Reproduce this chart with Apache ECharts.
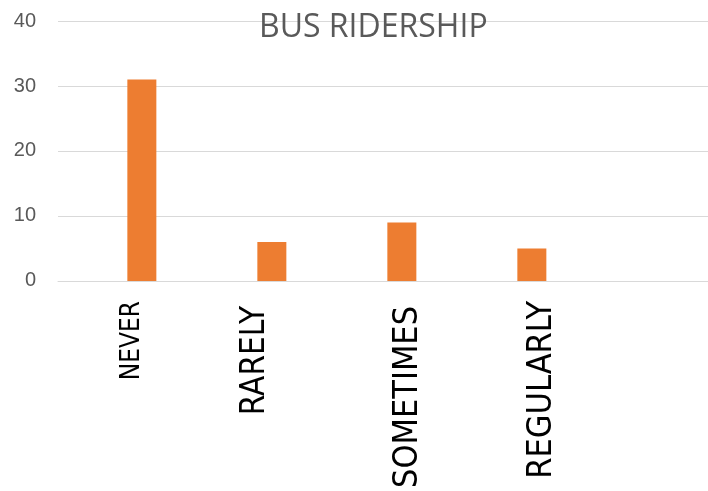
<!DOCTYPE html>
<html>
<head>
<meta charset="utf-8">
<script src="https://cdn.jsdelivr.net/npm/echarts@6/dist/echarts.min.js"></script>
<style>
  html, body { margin: 0; padding: 0; background: #fff; overflow: hidden; }
  #chart { width: 708px; height: 491px; }
</style>
</head>
<body>
<div id="chart"></div>
<script>
  // 数据
  const categories = ['NEVER', 'RARELY', 'SOMETIMES', 'REGULARLY', ''];
  const series1 = [null, null, null, null, null];   // empty first series (Excel blue)
  const series2 = [31, 6, 9, 5, null];
  const yMin = 0, yMax = 40, yStep = 10;

  // per-label rich style key
  const labelKeys = { NEVER: 'a', RARELY: 'b', SOMETIMES: 'c', REGULARLY: 'd' };
  const labelFont = '"Liberation Sans Narrow", "DejaVu Sans Condensed", "Liberation Sans", sans-serif';

  const chart = echarts.init(document.getElementById('chart'));
  const option = {
    animation: false,
    title: {
      text: 'BUS RIDERSHIP',
      left: 254,
      top: 7,
      textStyle: {
        color: '#595959',
        fontFamily: '"Open Sans", sans-serif',
        fontWeight: 'normal',
        fontSize: 32
      }
    },
    grid: {
      left: 58,
      right: 0,
      top: 21,
      bottom: 204,
      containLabel: false
    },
    xAxis: {
      type: 'category',
      data: categories,
      axisTick: { show: false },
      axisLine: { lineStyle: { color: '#d9d9d9', width: 1 } },
      axisLabel: {
        interval: 0,
        rotate: 90,
        margin: 20,
        color: '#000',
        fontFamily: labelFont,
        formatter: (v) => v ? `{${labelKeys[v]}|${v}}` : '',
        rich: {
          a: { fontSize: 26, fontFamily: labelFont, color: '#000', padding: [18, 0, 0, 0] },
          b: { fontSize: 33, fontFamily: labelFont, color: '#000', padding: [5, 5, 0, 0] },
          c: { fontSize: 34, fontFamily: labelFont, color: '#000', padding: [50, 5, 0, 0] },
          d: { fontSize: 34, fontFamily: labelFont, color: '#000', padding: [58, 0, 0, 0] }
        }
      }
    },
    yAxis: {
      type: 'value',
      min: yMin,
      max: yMax,
      interval: yStep,
      axisLine: { show: false },
      axisTick: { show: false },
      axisLabel: {
        margin: 22,
        color: '#595959',
        fontFamily: '"Liberation Sans", sans-serif',
        fontSize: 20
      },
      splitLine: { lineStyle: { color: '#d9d9d9', width: 1 } }
    },
    series: [{
      name: 'Series1',
      type: 'bar',
      data: series1,
      barWidth: 29,
      barGap: '30%',
      itemStyle: { color: '#4472c4' }
    }, {
      name: 'Series2',
      type: 'bar',
      data: series2,
      barWidth: 29,
      barGap: '30%',
      itemStyle: { color: '#ed7d31' }
    }]
  };
  chart.setOption(option);
</script>
</body>
</html>
